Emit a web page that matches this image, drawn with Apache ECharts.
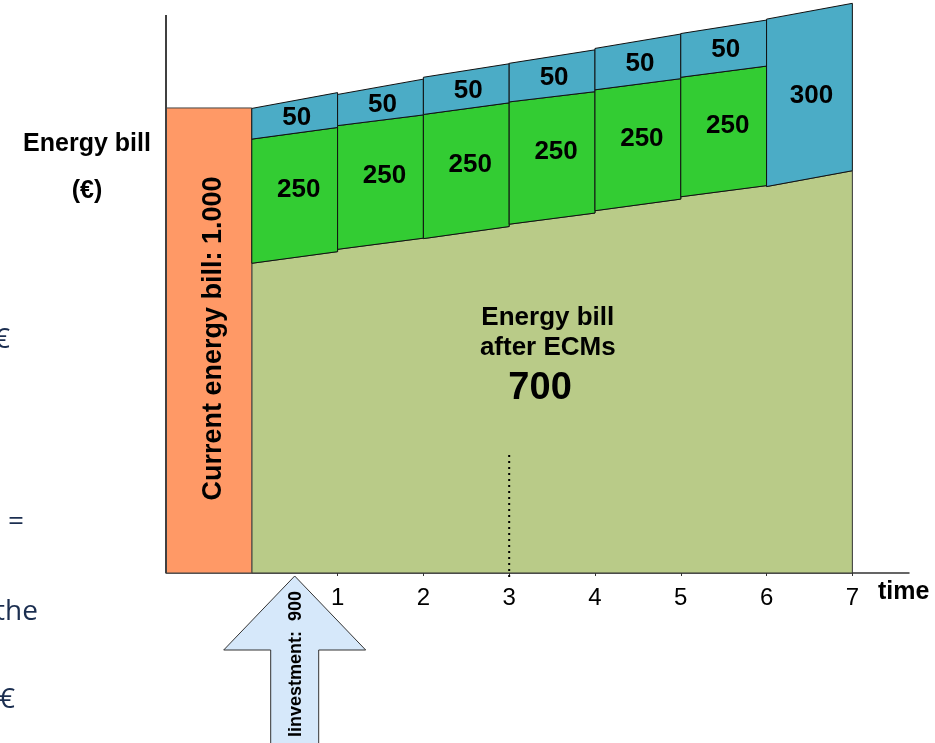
<!DOCTYPE html>
<html><head><meta charset="utf-8">
<script src="https://cdn.jsdelivr.net/npm/echarts@6/dist/echarts.min.js"></script>
<style>html,body{margin:0;padding:0;background:#fff;overflow:hidden}#c{width:935px;height:743px;}</style>
</head><body><div id="c"></div>
<script>
// ---- data ----
const periods = [1, 2, 3, 4, 5, 6, 7];
const tickLabels = ['1', '2', '3', '4', '5', '6', '7'];
const currentBill = 1000;
const billStart = [666, 696, 719, 750, 779, 809, 831];       // bill after ECMs, start of each period
const billEnd = [691, 720, 745, 774, 804, 833, 865];         // bill after ECMs, end of each period
const savingTopStart = [933, 962, 986, 1013, 1039, 1066, 831];
const savingTopEnd = [958, 985, 1011, 1035, 1063, 1090, 865];
const shareTopStart = [999, 1029, 1066, 1096, 1128, 1160, 1191];
const shareTopEnd = [1033, 1062, 1095, 1125, 1159, 1189, 1225];
const savingLabels = ['250', '250', '250', '250', '250', '250', ''];
const shareLabels = ['50', '50', '50', '50', '50', '50', '300'];
const afterEcmTitle = 'Energy bill\nafter ECMs';
const afterEcmValue = '700';
const currentBillLabel = 'Current energy bill: 1.000';
const investmentLabel = 'Iinvestment:  900';
const investmentAt = 0.5;
const paybackYear = 3;
const yAxisTitle = 'Energy bill\n(€)';
const xAxisTitle = 'time';

const COL = { orange: '#FF9966', blue: '#4BACC6', green: '#33CC33', olive: '#B9CB88', arrow: '#D6E8FA' };
const FONT = 'Arial, "Liberation Sans", sans-serif';

const rows = [];
periods.forEach((p, i) => {
  if (savingLabels[i]) rows.push({ v: [p - 1, p, billStart[i], billEnd[i], savingTopStart[i], savingTopEnd[i]], color: COL.green, label: savingLabels[i], dx: 4, dy: -6 });
  rows.push({ v: [p - 1, p, savingTopStart[i], savingTopEnd[i], shareTopStart[i], shareTopEnd[i]], color: COL.blue, label: shareLabels[i], dx: 2, dy: 1 });
});

const chart = echarts.init(document.getElementById('c'), null, { renderer: 'canvas' });

chart.setOption({
  animation: false,
  grid: { left: 166, width: 743, top: 1, height: 572, containLabel: false },
  xAxis: {
    type: 'value', min: -1, max: 7.66, interval: 1,
    splitLine: { show: false },
    axisLine: { show: true, onZero: false, lineStyle: { color: '#333', width: 1.5 } },
    axisTick: { show: true, customValues: periods, length: 3, lineStyle: { color: '#333' } },
    axisLabel: {
      customValues: periods, margin: 13,
      formatter: v => tickLabels[periods.indexOf(v)] || '',
      fontSize: 24, color: '#000', fontFamily: '"Liberation Sans Narrow", Arial, sans-serif'
    }
  },
  yAxis: { type: 'value', min: 0, max: 1230, show: false },
  series: [
    { // bill after ECMs
      type: 'custom', z: 1, data: [[0]],
      renderItem: (params, api) => {
        const pts = [api.coord([0, 0])];
        periods.forEach((p, i) => { pts.push(api.coord([p - 1, billStart[i]])); pts.push(api.coord([p, billEnd[i]])); });
        pts.push(api.coord([periods[periods.length - 1], 0]));
        return { type: 'polygon', shape: { points: pts }, style: { fill: COL.olive, stroke: '#333', lineWidth: 1 } };
      }
    },
    { // current bill
      type: 'custom', z: 2, data: [[-1, 0, currentBill]],
      renderItem: (params, api) => {
        const a = api.coord([-1, currentBill]), b = api.coord([0, 0]);
        return { type: 'rect', shape: { x: a[0], y: a[1], width: b[0] - a[0], height: b[1] - a[1] }, style: { fill: COL.orange, stroke: '#444', lineWidth: 1 } };
      }
    },
    { // savings & share blocks
      type: 'custom', z: 3, data: rows.map(r => r.v),
      renderItem: (params, api) => {
        const r = rows[params.dataIndex];
        const x0 = api.value(0), x1 = api.value(1);
        const pts = [api.coord([x0, api.value(2)]), api.coord([x1, api.value(3)]), api.coord([x1, api.value(5)]), api.coord([x0, api.value(4)])];
        const cx = (pts[0][0] + pts[1][0] + pts[2][0] + pts[3][0]) / 4 + r.dx;
        const cy = (pts[0][1] + pts[1][1] + pts[2][1] + pts[3][1]) / 4 + r.dy;
        return {
          type: 'group', children: [
            { type: 'polygon', shape: { points: pts }, style: { fill: r.color, stroke: '#111', lineWidth: 1 } },
            { type: 'text', x: cx, y: cy, style: { text: r.label, fontSize: 26, fontWeight: 'bold', fontFamily: FONT, fill: '#000', align: 'center', verticalAlign: 'middle' } }
          ]
        };
      }
    },
    { // y axis line
      type: 'line', z: 4, data: [[-1, 0], [-1, 1200]], showSymbol: false, silent: true, clip: false,
      lineStyle: { color: '#404040', width: 2 }
    },
    { // payback marker
      type: 'line', z: 5, data: [[paybackYear, 254], [paybackYear, -15]], showSymbol: false, silent: true, clip: false,
      lineStyle: { color: '#000', width: 2, type: [2, 4] }
    }
  ]
});

const px = (x, y) => chart.convertToPixel({ gridIndex: 0 }, [x, y]);
const arrowC = px(investmentAt, 0);
const ax = arrowC[0], ay = arrowC[1] + 3;
const orangeC = px(-0.5, currentBill / 2);
const ecm = px(3.45, 516);
const ecmV = px(3.36, 396);
const bold = (size) => ({ fontSize: size, fontWeight: 'bold', fontFamily: FONT, fill: '#000' });
const slide = { fontSize: 28, fontFamily: '"Open Sans", sans-serif', fill: '#1B2E50' };

chart.setOption({
  graphic: [
    { type: 'polygon', z: 10, shape: { points: [[ax, ay], [ax + 71, ay + 74], [ax + 24, ay + 74], [ax + 24, ay + 172], [ax - 24, ay + 172], [ax - 24, ay + 74], [ax - 71, ay + 74]] },
      style: { fill: COL.arrow, stroke: '#333', lineWidth: 1 } },
    { type: 'text', z: 11, x: ax + 1, y: 664, rotation: Math.PI / 2, style: Object.assign(bold(18), { text: investmentLabel, align: 'center', verticalAlign: 'middle' }) },
    { type: 'text', z: 11, x: orangeC[0] + 5, y: orangeC[1] - 2, rotation: Math.PI / 2, style: Object.assign(bold(27), { text: currentBillLabel, align: 'center', verticalAlign: 'middle' }) },
    { type: 'text', z: 11, x: ecm[0], y: ecm[1], style: Object.assign(bold(26), { text: afterEcmTitle, align: 'center', verticalAlign: 'middle', lineHeight: 30 }) },
    { type: 'text', z: 11, x: ecmV[0], y: ecmV[1], style: Object.assign(bold(38), { text: afterEcmValue, align: 'center', verticalAlign: 'middle' }) },
    { type: 'text', z: 11, x: 878, y: 592, style: Object.assign(bold(25), { text: xAxisTitle, align: 'left', verticalAlign: 'middle' }) },
    { type: 'text', z: 11, x: 87, y: 168, style: Object.assign(bold(25), { text: yAxisTitle, align: 'center', verticalAlign: 'middle', lineHeight: 47 }) },
    { type: 'text', z: 11, x: -6, y: 340, style: Object.assign({}, slide, { text: '€', verticalAlign: 'middle' }) },
    { type: 'text', z: 11, x: 8, y: 522, style: Object.assign({}, slide, { text: '=', verticalAlign: 'middle' }) },
    { type: 'text', z: 11, x: -5, y: 612, style: Object.assign({}, slide, { text: 'the', verticalAlign: 'middle' }) },
    { type: 'text', z: 11, x: -1, y: 700, style: Object.assign({}, slide, { text: '€', verticalAlign: 'middle' }) }
  ]
});
</script>
</body></html>
